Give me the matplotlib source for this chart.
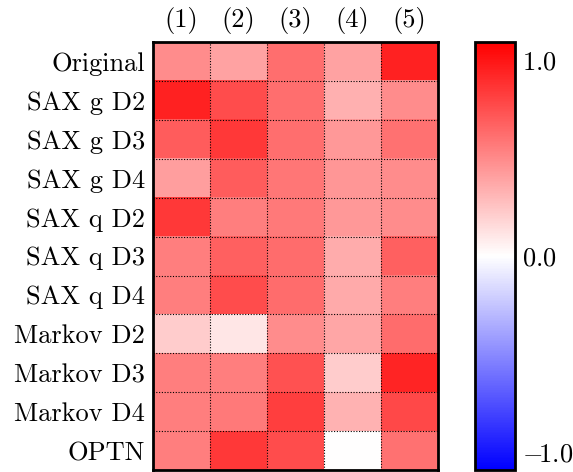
import numpy as np
import matplotlib
matplotlib.use("Agg")
import matplotlib.pyplot as plt

plt.rcParams['font.family'] = 'serif'
plt.rcParams['font.serif'] = ['cmr10']
plt.rcParams['mathtext.fontset'] = 'cm'
plt.rcParams['axes.formatter.use_mathtext'] = True
plt.rcParams['axes.unicode_minus'] = True

row_labels = ["Original", "SAX g D2", "SAX g D3", "SAX g D4", "SAX q D2", "SAX q D3",
              "SAX q D4", "Markov D2", "Markov D3", "Markov D4", "OPTN"]
col_labels = ["(1)", "(2)", "(3)", "(4)", "(5)"]
cbar_ticks = [-1.0, 0.0, 1.0]
cbar_labels = [r'$-\!1.0$', r'$0.0$', r'$1.0$']

original  = [0.49, 0.40, 0.62, 0.40, 0.94]
sax_g_d2  = [0.94, 0.76, 0.62, 0.34, 0.49]
sax_g_d3  = [0.69, 0.85, 0.62, 0.44, 0.60]
sax_g_d4  = [0.41, 0.69, 0.58, 0.45, 0.49]
sax_q_d2  = [0.85, 0.55, 0.57, 0.44, 0.49]
sax_q_d3  = [0.55, 0.68, 0.63, 0.35, 0.68]
sax_q_d4  = [0.55, 0.76, 0.63, 0.36, 0.55]
markov_d2 = [0.22, 0.11, 0.49, 0.38, 0.63]
markov_d3 = [0.55, 0.55, 0.74, 0.22, 0.93]
markov_d4 = [0.55, 0.57, 0.82, 0.33, 0.78]
optn      = [0.55, 0.85, 0.76, 0.00, 0.60]

data = np.array([original, sax_g_d2, sax_g_d3, sax_g_d4, sax_q_d2, sax_q_d3,
                 sax_q_d4, markov_d2, markov_d3, markov_d4, optn])

vlim = 1.09

fig = plt.figure(figsize=(5.73, 4.72), dpi=100)
ax = fig.add_axes([0.267, 0.004, 0.497, 0.907])
cax = fig.add_axes([0.829, 0.004, 0.070, 0.907])

im = ax.imshow(data, cmap='bwr', vmin=-vlim, vmax=vlim, aspect='auto', interpolation='nearest')
nr, nc = data.shape
for i in range(1, nr):
    ax.axhline(i - 0.5, color='black', lw=0.8, ls=(0, (1, 1.5)))
for j in range(1, nc):
    ax.axvline(j - 0.5, color='black', lw=0.8, ls=(0, (1, 1.5)))

ax.set_xticks(range(nc))
ax.set_xticklabels(col_labels, fontsize=19)
ax.xaxis.tick_top()
ax.set_yticks(range(nr))
ax.set_yticklabels(row_labels, fontsize=19)
ax.tick_params(axis='y', length=0, pad=5.8)
ax.tick_params(axis='x', length=0, pad=6)
for s in ax.spines.values():
    s.set_linewidth(2)

cb = fig.colorbar(im, cax=cax, ticks=cbar_ticks)
cb.ax.set_yticklabels(cbar_labels, fontsize=19)
cb.ax.tick_params(length=0, pad=5.0)
cb.outline.set_linewidth(2)

fig.savefig("out.png", dpi=100)
